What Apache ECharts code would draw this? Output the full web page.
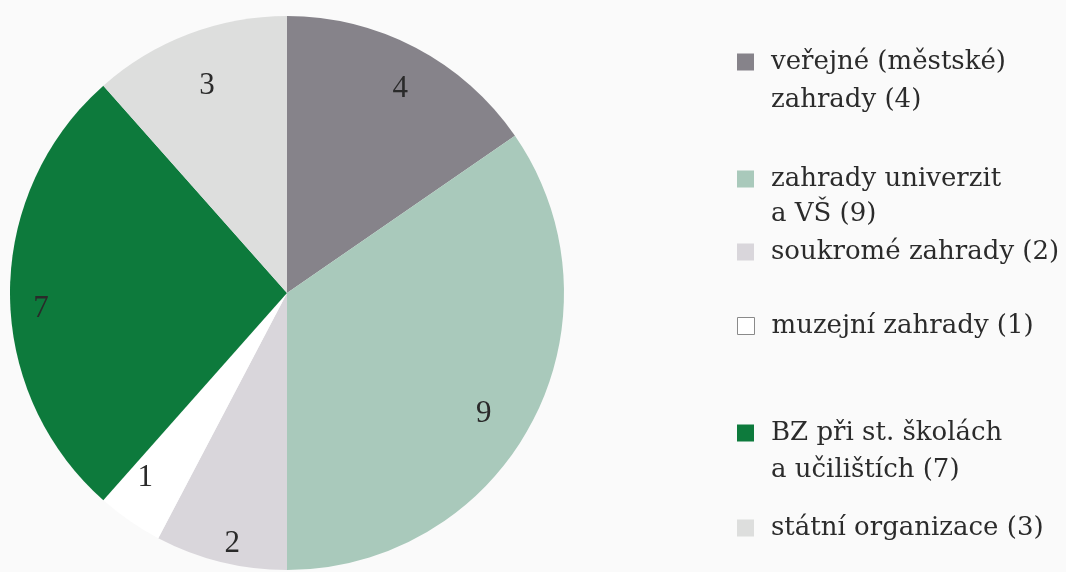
<!DOCTYPE html>
<html><head><meta charset="utf-8">
<script src="https://cdn.jsdelivr.net/npm/echarts@6/dist/echarts.min.js"></script>
<style>html,body{margin:0;padding:0;background:#fafafa}#c{width:1066px;height:572px}</style>
</head><body><div id="c"></div>
<script>
// categories, values, colours
const categories = ['veřejné (městské) zahrady','zahrady univerzit a VŠ','soukromé zahrady','muzejní zahrady','BZ při st. školách a učilištích','státní organizace'];
const values = [4, 9, 2, 1, 7, 3];
const legendFirstLines = ['veřejné (městské)', 'zahrady univerzit', 'soukromé zahrady (2)', 'muzejní zahrady (1)', 'BZ při st. školách', 'státní organizace (3)'];
const legendSecondLines = ['zahrady (4)', 'a VŠ (9)', '', '', 'a učilištích (7)', ''];
const colors = ['#86838a', '#a9c9bb', '#d9d6db', '#ffffff', '#0d7a3c', '#dddedd'];

// label nudges (style only)
const labelNudges = [[3, 3], [-13, 8], [2, 18], [-7, -13], [-9, 13], [4, 11]];

const FONT = 'DejaVu Serif';
const FS = 26;
const legendCenters = [62, 179, 252, 326, 433, 528];
const secondCenters = [100, 214, 0, 0, 470, 0];
const TEXT_X = 771;

const chart = echarts.init(document.getElementById('c'), null, {renderer: 'canvas'});
const data = categories.map((n, i) => ({name: n, value: values[i], itemStyle: {color: colors[i]}}));

const legends = categories.map((n, i) => ({
  left: 737,
  top: legendCenters[i] - 15,
  padding: 0,
  orient: 'vertical',
  icon: 'rect',
  itemWidth: 17,
  itemHeight: 17,
  itemGap: 0,
  selectedMode: false,
  data: [{name: n, itemStyle: i === 3 ? {borderColor: '#8a8a8a', borderWidth: 1} : {borderWidth: 0}}],
  formatter: () => legendFirstLines[i],
  textStyle: {fontFamily: FONT, fontSize: FS, color: '#2b2b2b', lineHeight: 30, padding: [0, 0, 0, TEXT_X - 737 - 22]}
}));

const graphics = legendSecondLines.map((t, i) => t ? {
  type: 'text', left: TEXT_X, top: secondCenters[i] - 15, silent: true,
  style: {text: t, font: FS + 'px ' + FONT, fill: '#2b2b2b', lineHeight: 30}
} : null).filter(Boolean);

chart.setOption({
  backgroundColor: '#fafafa',
  animation: false,
  legend: legends,
  graphic: graphics,
  series: [
    {
      type: 'pie',
      center: [287, 293],
      radius: [0, 277],
      startAngle: 90,
      clockwise: true,
      silent: true,
      label: {show: false},
      labelLine: {show: false},
      itemStyle: {borderWidth: 0},
      data: data
    },
    {
      type: 'pie',
      center: [287, 296],
      radius: [188, 280],
      startAngle: 90,
      clockwise: true,
      silent: true,
      legendHoverLink: false,
      itemStyle: {color: 'rgba(0,0,0,0)', borderWidth: 0},
      label: {
        show: true, position: 'inside',
        formatter: '{c}',
        fontFamily: 'Liberation Serif', fontSize: 31, color: '#2a2a2a'
      },
      labelLine: {show: false},
      data: categories.map((n, i) => ({name: n, value: values[i], label: {offset: labelNudges[i]}}))
    }
  ]
});
</script>
</body></html>
